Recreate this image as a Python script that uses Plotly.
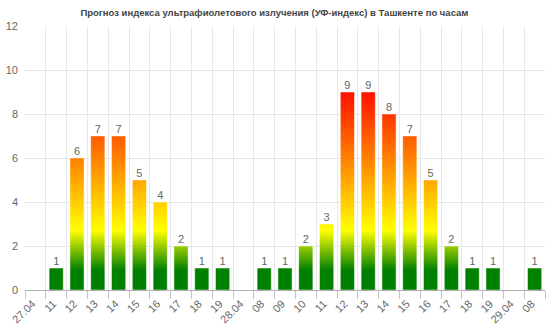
import plotly.graph_objects as go

# Hourly UV-index forecast for Tashkent
labels = ["27.04", "11", "12", "13", "14", "15", "16", "17", "18", "19",
          "28.04", "08", "09", "10", "11", "12", "13", "14", "15", "16",
          "17", "18", "19", "29.04", "08"]
uv_index = [None, 1, 6, 7, 7, 5, 4, 2, 1, 1,
            None, 1, 1, 2, 3, 9, 9, 8, 7, 5,
            2, 1, 1, None, 1]

title_text = "Прогноз индекса ультрафиолетового излучения (УФ-индекс) в Ташкенте по часам"

# colour ramp in absolute index units: green low, yellow mid, red high
uv_scale = [[0.0, "#008000"], [0.1, "#008000"], [0.3, "#ffff00"],
            [0.62, "#ff9000"], [1.0, "#ff1000"]]
grad_start, grad_stop = 0, 9

BAR_W = 0.68
FONT = "Liberation Sans, Arial, sans-serif"

fig = go.Figure()

for i, v in enumerate(uv_index):
    if v is None:
        continue
    x0, x1 = i - BAR_W / 2, i + BAR_W / 2
    fig.add_trace(go.Scatter(
        x=[x0, x0, x1, x1, x0],
        y=[0, v, v, 0, 0],
        mode="lines",
        fill="toself",
        fillgradient=dict(type="vertical", colorscale=uv_scale,
                          start=grad_start, stop=grad_stop),
        line=dict(color="rgba(255,255,255,0.45)", width=1),
        hoverinfo="skip",
        showlegend=False,
    ))

xs = [i for i, v in enumerate(uv_index) if v is not None]
vs = [v for v in uv_index if v is not None]
fig.add_trace(go.Scatter(
    x=xs, y=vs, mode="text",
    text=[str(v) for v in vs],
    textposition="top center",
    textfont=dict(family=FONT, size=11, color="#666666"),
    hovertemplate="%{y}<extra></extra>",
    showlegend=False,
))

fig.update_layout(
    width=560, height=325,
    margin=dict(l=25, r=15, t=26, b=35),
    paper_bgcolor="white", plot_bgcolor="white",
    font=dict(family=FONT, color="#666666", size=11),
    title=dict(text=f"<b>{title_text}</b>", x=0.49, xanchor="center",
               y=1 - 13 / 325, yanchor="middle", yref="container",
               font=dict(family=FONT, size=9.5, color="#444444")),
)

fig.update_xaxes(
    range=[-0.5, len(labels) - 0.5], automargin=False,
    tickmode="array", tickvals=list(range(len(labels))), ticktext=labels,
    tickangle=-45, showgrid=False, zeroline=False, ticks="",
    ticklabelstandoff=2, ticklabelshift=-3,
    showline=True, linecolor="#b0b0b0", linewidth=1,
    tickfont=dict(family=FONT, size=11, color="#666666"),
    minor=dict(tick0=-0.5, dtick=1, showgrid=True, gridcolor="#e8e8e8",
               gridwidth=1, ticks="outside", ticklen=8,
               tickcolor="#c4c4c4", tickwidth=1),
    fixedrange=True,
)
fig.update_yaxes(
    range=[0, 12], dtick=2, showgrid=True, gridcolor="#e6e6e6",
    zeroline=False, ticks="", ticklabelstandoff=6, automargin=False,
    tickfont=dict(family=FONT, size=11, color="#666666"),
    fixedrange=True,
)

fig.write_html("out.html")
